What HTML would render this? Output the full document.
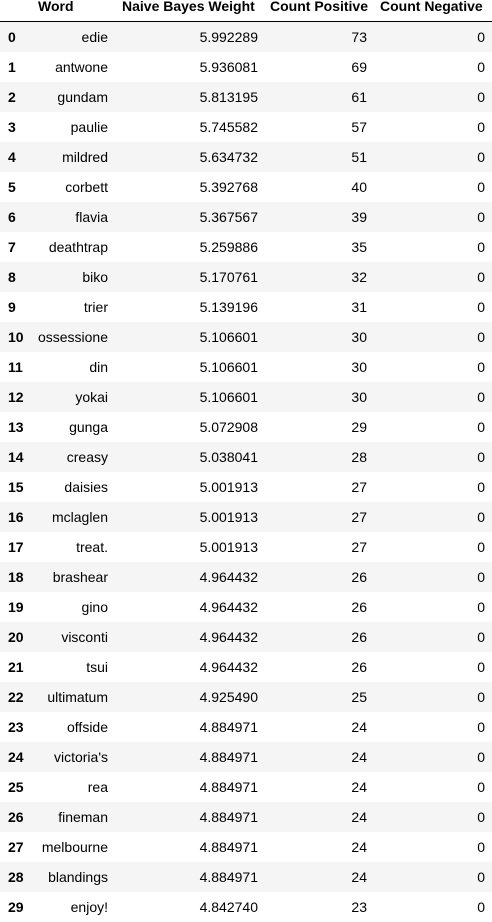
<!DOCTYPE html>
<html><head><meta charset="utf-8"><style>
body{margin:0;width:492px;height:916px;background:#fff;font-family:"Liberation Sans",Arial,sans-serif;font-size:14px;color:#000;position:relative;overflow:hidden}
.c{position:absolute;white-space:nowrap;line-height:30px;top:0}
.hd{position:absolute;white-space:nowrap;line-height:14px;top:-1px;font-weight:bold}
.h{font-weight:bold}
.row{position:absolute;left:0;width:492px;height:30px}
</style></head><body>
<div id="t">
<div class="hd" style="left:38px">Word</div>
<div class="hd" style="left:122px">Naive Bayes Weight</div>
<div class="hd" style="left:270px">Count Positive</div>
<div class="hd" style="left:380px">Count Negative</div>
<div style="position:absolute;left:0;top:21px;width:492px;height:1px;background:#000"></div>
</div>
<script>
const words=["edie","antwone","gundam","paulie","mildred","corbett","flavia","deathtrap","biko","trier","ossessione","din","yokai","gunga","creasy","daisies","mclaglen","treat.","brashear","gino","visconti","tsui","ultimatum","offside","victoria's","rea","fineman","melbourne","blandings","enjoy!"];
const weights=["5.992289","5.936081","5.813195","5.745582","5.634732","5.392768","5.367567","5.259886","5.170761","5.139196","5.106601","5.106601","5.106601","5.072908","5.038041","5.001913","5.001913","5.001913","4.964432","4.964432","4.964432","4.964432","4.925490","4.884971","4.884971","4.884971","4.884971","4.884971","4.884971","4.842740"];
const countPos=[73,69,61,57,51,40,39,35,32,31,30,30,30,29,28,27,27,27,26,26,26,26,25,24,24,24,24,24,24,23];
const countNeg=[0,0,0,0,0,0,0,0,0,0,0,0,0,0,0,0,0,0,0,0,0,0,0,0,0,0,0,0,0,0];
const t=document.getElementById('t');
function cell(row,txt,right,left,bold,name){
  const d=document.createElement('div');
  d.className='c'+(bold?' h':'');
  
  
  if(left!=null)d.style.left=left+'px';else d.style.right=(492-right)+'px';
  d.textContent=txt;row.appendChild(d);
}
words.forEach((w,i)=>{
  const r=document.createElement('div');
  r.className='row';
  
  
  r.style.top=(22+i*30)+'px';
  if(i%2==0)r.style.background='#f5f5f5';
  cell(r,String(i),null,8,true,'row-index');
  cell(r,w,108,null,false,'word-cell');
  cell(r,weights[i],258,null,false,'weight-cell');
  cell(r,String(countPos[i]),367,null,false,'count-positive-cell');
  cell(r,String(countNeg[i]),485,null,false,'count-negative-cell');
  t.appendChild(r);
});
</script>
</body></html>
